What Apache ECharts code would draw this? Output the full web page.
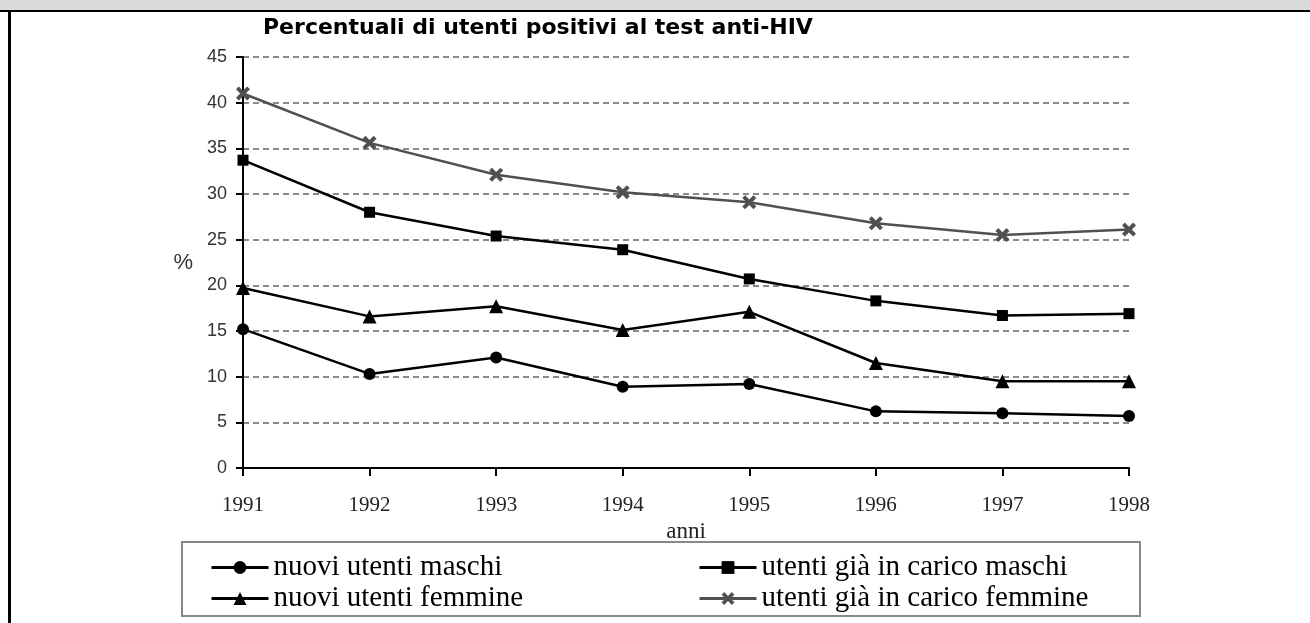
<!DOCTYPE html>
<html>
<head>
<meta charset="utf-8">
<script src="https://cdn.jsdelivr.net/npm/echarts@6/dist/echarts.min.js"></script>
<style>
  html, body { margin: 0; padding: 0; background: #fff; }
  #chart { width: 1310px; height: 623px; }
</style>
</head>
<body>
<div id="chart"></div>
<script>
// --- data ------------------------------------------------------------------
const years = ["1991", "1992", "1993", "1994", "1995", "1996", "1997", "1998"];
const yTicks = { min: 0, max: 45, interval: 5 };

const nuoviMaschi = [15.2, 10.3, 12.1, 8.9, 9.2, 6.2, 6.0, 5.7];
const nuoveFemmine = [19.7, 16.6, 17.7, 15.1, 17.1, 11.5, 9.5, 9.5];
const giaMaschi = [33.7, 28.0, 25.4, 23.9, 20.7, 18.3, 16.7, 16.9];
const giaFemmine = [41.0, 35.6, 32.1, 30.2, 29.1, 26.8, 25.5, 26.1];

const names = [
  "nuovi utenti maschi",
  "nuovi utenti femmine",
  "utenti già in carico maschi",
  "utenti già in carico femmine",
];

// --- styling -----------------------------------------------------------------
const SERIF = '"Liberation Serif", "DejaVu Serif", serif';
const SANS = '"Liberation Sans", Arial, sans-serif';
const INK = "#000";
const GREY = "#505050";
// chunky filled X, closer to the old spreadsheet marker than ECharts' thin cross
const X_MARK = "path://M0,2L2,0L5,3L8,0L10,2L7,5L10,8L8,10L5,7L2,10L0,8L3,5Z";

function line(name, data, symbol, size, color) {
  return {
    name,
    type: "line",
    data,
    symbol,
    symbolSize: size,
    showSymbol: true,
    lineStyle: { color, width: 2.5 },
    itemStyle: { color },
    emphasis: { disabled: true },
    z: 3,
  };
}

const legendBase = {
  orient: "vertical",
  top: 548,
  itemWidth: 57,
  itemHeight: 16,
  itemGap: 2,
  selectedMode: false,
  lineStyle: { width: 3 },
  textStyle: { fontFamily: SERIF, fontSize: 29, lineHeight: 28, color: "#000" },
};

const chart = echarts.init(document.getElementById("chart"), null, { renderer: "canvas" });

chart.setOption({
  animation: false,
  backgroundColor: "#fff",
  title: {
    text: "Percentuali di utenti positivi al test anti-HIV",
    left: 258,
    top: 12,
    textStyle: { fontFamily: '"DejaVu Sans", sans-serif', fontWeight: "bold", fontSize: 22, color: "#000" },
  },
  grid: { left: 243, right: 181, top: 57, bottom: 155 },
  xAxis: {
    type: "category",
    data: years,
    boundaryGap: false,
    name: "anni",
    nameLocation: "middle",
    nameGap: 52,
    nameTextStyle: { fontFamily: SERIF, fontSize: 23, color: "#222" },
    axisLine: { lineStyle: { color: INK, width: 2 } },
    axisTick: { alignWithLabel: true, length: 8, lineStyle: { color: INK, width: 2 } },
    axisLabel: { fontFamily: SERIF, fontSize: 21, color: "#222", margin: 27 },
    splitLine: { show: false },
  },
  yAxis: {
    type: "value",
    ...yTicks,
    name: "%",
    nameLocation: "middle",
    nameRotate: 0,
    nameGap: 50,
    nameTextStyle: { fontFamily: SANS, fontSize: 22, color: "#333" },
    axisLine: { show: true, lineStyle: { color: INK, width: 2 } },
    axisTick: { show: true, length: 7, lineStyle: { color: INK, width: 2 } },
    axisLabel: { fontFamily: SANS, fontSize: 18, color: "#333", margin: 16 },
    splitLine: { lineStyle: { color: "#8a8a8a", width: 2, type: [6, 4] } },
  },
  legend: [
    { ...legendBase, data: [names[0], names[1]], left: 205 },
    { ...legendBase, data: [names[2], names[3]], left: 693 },
  ],
  graphic: [
    { type: "rect", shape: { x: 0, y: 0, width: 1310, height: 10 }, style: { fill: "#d9d9d9" }, silent: true },
    { type: "rect", shape: { x: 0, y: 10, width: 1310, height: 2 }, style: { fill: "#000" }, silent: true },
    { type: "rect", shape: { x: 8, y: 10, width: 3, height: 613 }, style: { fill: "#000" }, silent: true },
    {
      type: "rect",
      shape: { x: 182, y: 542, width: 958, height: 74 },
      style: { fill: "none", stroke: "#888", lineWidth: 2 },
      silent: true,
      z: -1,
    },
  ],
  series: [
    line(names[0], nuoviMaschi, "circle", 12, INK),
    line(names[1], nuoveFemmine, "triangle", 14, INK),
    line(names[2], giaMaschi, "rect", 11, INK),
    line(names[3], giaFemmine, X_MARK, 14, GREY),
  ],
});
</script>
</body>
</html>
